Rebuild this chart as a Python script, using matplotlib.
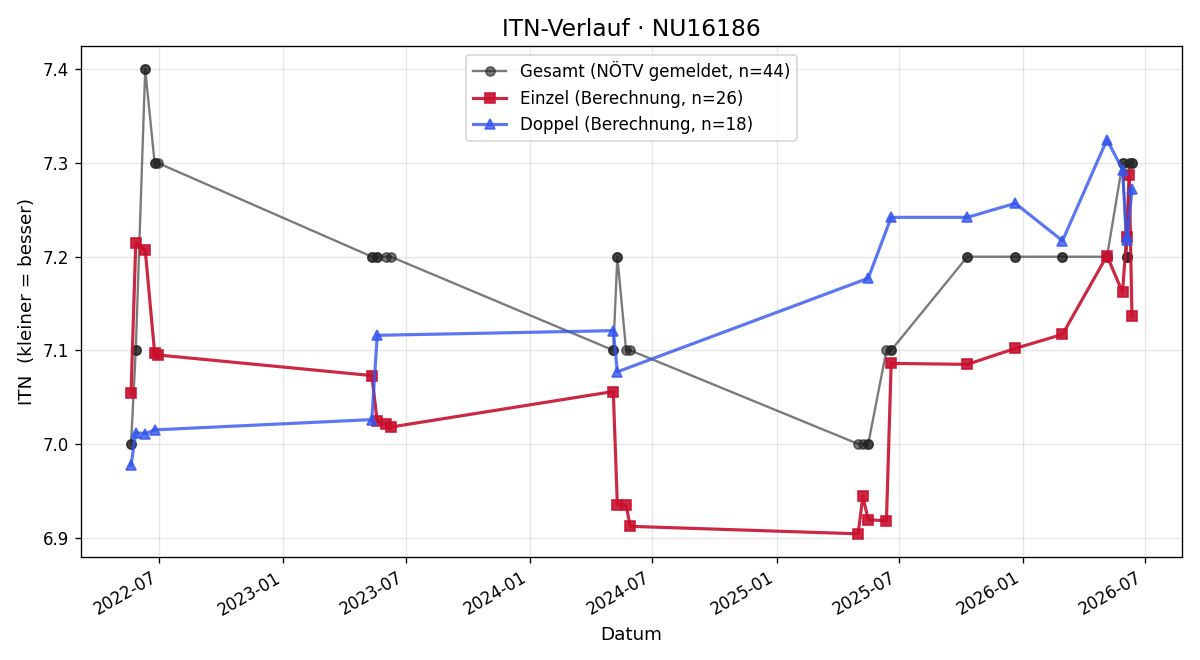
import matplotlib
matplotlib.use("Agg")
import matplotlib.pyplot as plt
import matplotlib.dates as mdates
import pandas as pd

# Einzel (Berechnung)
einzel_datum = ["2022-05-20", "2022-05-27", "2022-06-10", "2022-06-24", "2022-06-29",
                "2023-05-12", "2023-05-20", "2023-06-02", "2023-06-09",
                "2024-05-04", "2024-05-10", "2024-05-23", "2024-05-29",
                "2025-05-02", "2025-05-09", "2025-05-17", "2025-06-13", "2025-06-20",
                "2025-10-11", "2025-12-21", "2026-03-01",
                "2026-05-06", "2026-05-29", "2026-06-04", "2026-06-08", "2026-06-12"]
einzel_itn = [7.054, 7.215, 7.207, 7.097, 7.095,
              7.073, 7.024, 7.021, 7.018,
              7.056, 6.935, 6.935, 6.912,
              6.904, 6.944, 6.919, 6.918, 7.086,
              7.085, 7.102, 7.117,
              7.201, 7.162, 7.221, 7.287, 7.137]

# Doppel (Berechnung)
doppel_datum = ["2022-05-20", "2022-05-27", "2022-06-10", "2022-06-24",
                "2023-05-12", "2023-05-20",
                "2024-05-04", "2024-05-10",
                "2025-05-17", "2025-06-20",
                "2025-10-11", "2025-12-21", "2026-03-01",
                "2026-05-06", "2026-05-29", "2026-06-04", "2026-06-05", "2026-06-12"]
doppel_itn = [6.977, 7.012, 7.011, 7.015,
              7.026, 7.116,
              7.121, 7.077,
              7.177, 7.242,
              7.242, 7.257, 7.217,
              7.325, 7.293, 7.222, 7.218, 7.272]

# Gesamt (NÖTV gemeldet) - ein Eintrag pro Spiel
gesamt_datum = ["2022-05-20", "2022-05-20", "2022-05-27", "2022-05-27", "2022-06-10", "2022-06-10",
                "2022-06-24", "2022-06-24", "2022-06-29",
                "2023-05-12", "2023-05-12", "2023-05-20", "2023-05-20", "2023-06-02", "2023-06-09",
                "2024-05-04", "2024-05-04", "2024-05-10", "2024-05-10", "2024-05-23", "2024-05-29",
                "2025-05-02", "2025-05-09", "2025-05-17", "2025-05-17", "2025-06-13", "2025-06-20", "2025-06-20",
                "2025-10-11", "2025-10-11", "2025-12-21", "2025-12-21", "2026-03-01", "2026-03-01",
                "2026-05-06", "2026-05-06", "2026-05-29", "2026-05-29", "2026-06-04", "2026-06-04",
                "2026-06-04", "2026-06-08", "2026-06-12", "2026-06-12"]
gesamt_itn = [7.0, 7.0, 7.1, 7.1, 7.4, 7.4,
              7.3, 7.3, 7.3,
              7.2, 7.2, 7.2, 7.2, 7.2, 7.2,
              7.1, 7.1, 7.2, 7.2, 7.1, 7.1,
              7.0, 7.0, 7.0, 7.0, 7.1, 7.1, 7.1,
              7.2, 7.2, 7.2, 7.2, 7.2, 7.2,
              7.2, 7.2, 7.3, 7.3, 7.2, 7.2,
              7.2, 7.3, 7.3, 7.3]

fig, ax = plt.subplots(figsize=(10, 5.5), dpi=120)

ax.plot(pd.to_datetime(gesamt_datum), gesamt_itn, marker="o", markersize=5.5, linewidth=1.4,
        color="#222222", alpha=0.6, label=f"Gesamt (NÖTV gemeldet, n={len(gesamt_itn)})")
ax.plot(pd.to_datetime(einzel_datum), einzel_itn, marker="s", markersize=6, linewidth=1.9,
        color="#c8102e", alpha=0.9, label=f"Einzel (Berechnung, n={len(einzel_itn)})")
ax.plot(pd.to_datetime(doppel_datum), doppel_itn, marker="^", markersize=6, linewidth=1.9,
        color="#3355ee", alpha=0.8, label=f"Doppel (Berechnung, n={len(doppel_itn)})")

ax.set_title("ITN-Verlauf · NU16186", fontsize=14)
ax.set_xlabel("Datum", fontsize=11)
ax.set_ylabel("ITN  (kleiner = besser)", fontsize=11)
ax.grid(True, alpha=0.3)
ax.legend(loc="upper center")

ax.xaxis.set_major_locator(mdates.MonthLocator(bymonth=[1, 7]))
ax.xaxis.set_major_formatter(mdates.DateFormatter("%Y-%m"))
fig.autofmt_xdate()

plt.subplots_adjust(left=0.0675, right=0.985, top=0.93, bottom=0.156)
plt.savefig("out.png")
